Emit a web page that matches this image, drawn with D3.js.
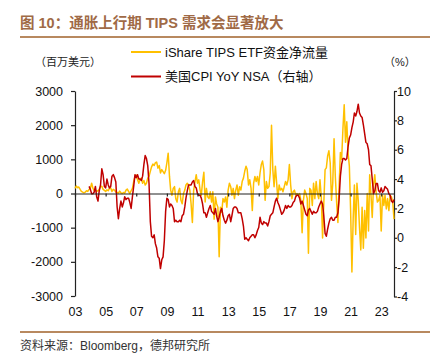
<!DOCTYPE html>
<html><head><meta charset="utf-8">
<script src="https://cdn.jsdelivr.net/npm/d3@7"></script>
<style>body{margin:0;background:#fff}svg{display:block}text{font-family:"Liberation Sans","Noto Sans CJK SC",sans-serif}</style>
</head><body><svg id="c" width="440" height="359"></svg>
<script>
// ---- data ----
const etfStart = "2003-12"; // monthly, iShare TIPS ETF net flow (USD mn)
const etfFlow = [
 150,220,170,190,120,60,40,20,40,80,60,120,150,
 300,150,90,100,60,80,120,200,210,120,90,60,110,80,150,160,60,120,100,40,30,
 10,70,20,0,30,10,100,130,60,0,80,150,350,500,540,400,300,420,450,300,380,250,300,450,500,650,780,860,820,900,920,740,820,600,700,640,580,
 680,900,1180,500,100,-50,150,200,-150,-250,50,150,-200,-300,0,100,250,300,250,100,-300,-850,100,330,550,300,400,100,-50,350,620,-250,150,-100,-150,50,
 -250,50,-750,-100,-300,-400,-1850,-400,-550,-150,-250,-100,-400,100,300,200,-50,150,-150,100,250,-50,200,100,350,450,650,800,700,250,400,150,-500,300,500,350,
 500,250,600,850,950,700,-200,350,150,200,600,2000,700,200,800,300,-150,250,100,150,50,200,350,250,400,850,250,-150,50,100,-50,0,-50,0,-200,-1150,
 -200,100,0,-150,-1750,150,100,-350,300,-150,350,0,-150,400,-100,-1300,-300,700,750,1100,1250,900,-200,300,1600,500,-250,-850,200,1200,1000,1900,2600,1500,2100,1200,
 800,-500,-2300,-700,250,-1200,300,-200,-1000,-1650,-400,-1600,-500,-1300,0,-1100,550,-50,-700,250,550,50,-250,-200,-50,-1100,-50,-350,-50,-450,-150,-500,-50,-100,-250,-750
];
const cpiStart = "2004-11"; // monthly, US CPI YoY NSA (%)
const cpiYoY = [
 3.5,3.3,
 3.0,3.0,3.1,3.5,2.8,2.5,3.2,3.6,4.7,4.3,3.5,3.4,
 4.0,3.6,3.4,3.5,4.2,4.3,4.1,3.8,2.1,1.3,2.0,2.5,
 2.1,2.4,2.8,2.6,2.7,2.7,2.4,2.0,2.8,3.5,4.3,4.1,
 4.3,4.0,4.0,3.9,4.2,5.0,5.6,5.4,4.9,3.7,1.1,0.1,
 0.0,0.2,-0.4,-0.7,-1.3,-1.4,-2.1,-1.5,-1.3,-0.2,1.8,2.7,
 2.6,2.1,2.3,2.2,2.0,1.1,1.2,1.1,1.1,1.2,1.1,1.5,
 1.6,2.1,2.7,3.2,3.6,3.6,3.6,3.8,3.9,3.5,3.4,3.0,
 2.9,2.9,2.7,2.3,1.7,1.7,1.4,1.7,2.0,2.2,1.8,1.7,
 1.6,2.0,1.5,1.1,1.4,1.8,2.0,1.5,1.2,1.0,1.2,1.5,
 1.6,1.1,1.5,2.0,2.1,2.1,2.0,1.7,1.7,1.7,1.3,0.8,
 -0.1,0.0,-0.1,-0.2,0.0,0.1,0.2,0.2,0.0,0.2,0.5,0.7,
 1.4,1.0,0.9,1.1,1.0,1.0,0.8,1.1,1.5,1.6,1.7,2.1,
 2.5,2.7,2.4,2.2,1.9,1.6,1.7,1.9,2.2,2.0,2.2,2.1,
 2.1,2.2,2.4,2.5,2.8,2.9,2.9,2.7,2.3,2.5,2.2,1.9,
 1.6,1.5,1.9,2.0,1.8,1.6,1.8,1.7,1.7,1.8,2.1,2.3,
 2.5,2.3,1.5,0.3,0.1,0.6,1.0,1.3,1.4,1.2,1.2,1.4,
 1.4,1.7,2.6,4.2,5.0,5.4,5.4,5.3,5.4,6.2,6.8,7.0,
 7.5,7.9,8.5,8.3,8.6,9.1,8.5,8.3,8.2,7.7,7.1,6.5,
 6.4,6.0,5.0,4.9,4.0,3.0,3.2,3.7,3.7,3.2,3.1,3.4,
 3.1,3.2,3.5,3.4,3.3,3.0,2.9,2.5,2.4,2.6
];
const xTickDates = ["2003-12","2005-12","2007-12","2009-12","2011-12","2013-12","2015-12","2017-12","2019-12","2021-12","2023-12"];
const xTickLabels = ["03","05","07","09","11","13","15","17","19","21","23"];
const leftTicks = [3000,2000,1000,0,-1000,-2000,-3000];
const rightTicks = [10,8,6,4,2,0,-2,-4];
const titleText = "图 10：通胀上行期 TIPS 需求会显著放大";
const seriesNames = ["iShare TIPS ETF资金净流量","美国CPI YoY NSA（右轴）"];
const sourceText = "资料来源：Bloomberg，德邦研究所";

// ---- drawing ----
const parse = d3.utcParse("%Y-%m");
const svg = d3.select("#c");
const L = 75, R = 394, T = 91, B = 296;
const goldC = "#FFC000", redC = "#C00000", brown = "#A06A46", rule = "#B8895F";

const etfData = etfFlow.map((v,i)=>({d:d3.utcMonth.offset(parse(etfStart),i), v}));
const cpiData = cpiYoY.map((v,i)=>({d:d3.utcMonth.offset(parse(cpiStart),i), v}));

const x = d3.scaleUtc().domain([parse(etfStart), etfData[etfData.length-1].d]).range([L,R]);
const yL = d3.scaleLinear().domain([-3000,3000]).range([B,T]);
const yR = d3.scaleLinear().domain([-4,10]).range([B+0.5,T]);

// title and rules
svg.append("text").attr("x",20).attr("y",28).attr("fill",brown)
  .attr("font-size",14.5).attr("font-weight","bold").text(titleText);
svg.append("line").attr("x1",20).attr("x2",430).attr("y1",37).attr("y2",37).attr("stroke",rule).attr("stroke-width",1.8);
svg.append("line").attr("x1",20).attr("x2",430).attr("y1",332).attr("y2",332).attr("stroke",rule).attr("stroke-width",1.8);
svg.append("text").attr("x",20).attr("y",350).attr("fill","#333").attr("font-size",12).text(sourceText);

// legend
const lg = [[goldC,52],[redC,76.5]];
lg.forEach((g,k)=>{
  svg.append("line").attr("x1",131).attr("x2",161).attr("y1",g[1]).attr("y2",g[1]).attr("stroke",g[0]).attr("stroke-width",2);
  svg.append("text").attr("x",165).attr("y",g[1]+4.5).attr("font-size",13).attr("fill","#111").text(seriesNames[k]);
});
svg.append("text").attr("x",35).attr("y",66).attr("font-size",11).attr("fill","#222").text("（百万美元）");
svg.append("text").attr("x",384).attr("y",66).attr("font-size",11).attr("fill","#222").text("（%）");

// axes
const axL = svg.append("g").attr("transform",`translate(${L},0)`)
  .call(d3.axisLeft(yL).tickValues(leftTicks).tickSize(4).tickSizeOuter(0).tickPadding(8).tickFormat(d=>String(d)));
const axR = svg.append("g").attr("transform",`translate(${R},0)`)
  .call(d3.axisRight(yR).tickValues(rightTicks).tickSize(3).tickSizeOuter(0).tickPadding(0).tickFormat(d=>String(d)));
const axX = svg.append("g").attr("transform",`translate(0,${yL(0)})`)
  .call(d3.axisBottom(x).tickValues(xTickDates.map(parse)).tickSize(3).tickSizeOuter(0).tickFormat(""));
const axXl = svg.append("g").attr("transform",`translate(0,${B})`)
  .call(d3.axisBottom(x).tickValues(xTickDates.map(parse)).tickSize(0).tickPadding(11)
    .tickFormat((d,i)=>xTickLabels[i]));
axXl.select(".domain").remove();
[axL,axR,axX,axXl].forEach(a=>{
  a.selectAll("text").attr("font-size",12.5).attr("fill","#111").attr("font-family",'"Liberation Sans",sans-serif');
  a.selectAll(".domain,line").attr("stroke","#222").attr("stroke-width",1.2);
});

// series
svg.append("path").datum(etfData).attr("fill","none").attr("stroke",goldC).attr("stroke-width",1.5)
  .attr("stroke-linejoin","round")
  .attr("d",d3.line().x(d=>x(d.d)).y(d=>yL(d.v)));
svg.append("path").datum(cpiData).attr("fill","none").attr("stroke",redC).attr("stroke-width",1.5)
  .attr("stroke-linejoin","round")
  .attr("d",d3.line().x(d=>x(d.d)).y(d=>yR(d.v)));
axX.raise();
</script></body></html>
